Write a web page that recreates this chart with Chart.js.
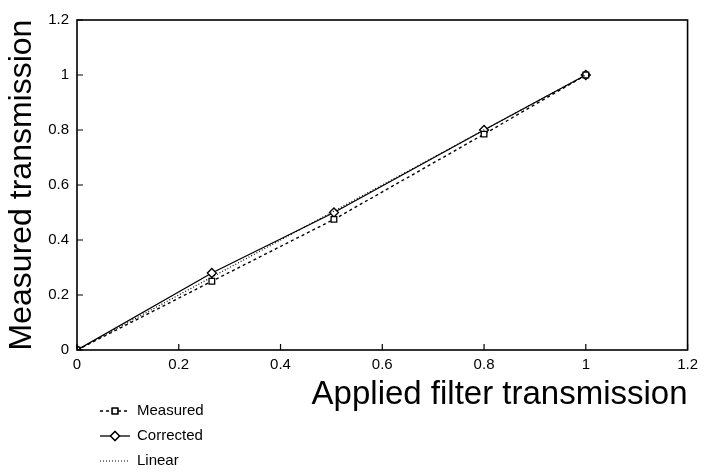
<!DOCTYPE html>
<html>
<head>
<meta charset="utf-8">
<script src="https://cdn.jsdelivr.net/npm/chart.js@4/dist/chart.umd.min.js"></script>
<style>
    html, body { margin: 0; padding: 0; background: #fff; }
    #wrap { width: 704px; height: 473px; position: relative; }
</style>
</head>
<body>
<div id="wrap"><canvas id="grafico"></canvas></div>
<script>
// filter values on the x axis and the two measured series
const filterValues = [0, 0.265, 0.505, 0.8, 1.0];
const measuredValues = [0, 0.25, 0.475, 0.785, 1.0];
const correctedValues = [0, 0.28, 0.5, 0.8, 1.0];
// reference line y = x
const linearX = [0, 1];
const linearY = [0, 1];
const tickValues = [0, 0.2, 0.4, 0.6, 0.8, 1, 1.2];

const fontFamily = "'Liberation Sans', Arial, sans-serif";

function toPoints(xs, ys) {
    return xs.map((x, i) => ({ x: x, y: ys[i] }));
}

// frame on all four sides plus inward tick marks
const framePlugin = {
    id: "frame",
    afterDraw(chart) {
        const { ctx, chartArea: a, scales } = chart;
        ctx.save();
        ctx.strokeStyle = "#000";
        ctx.lineWidth = 1.6;
        ctx.strokeRect(a.left, a.top, a.right - a.left, a.bottom - a.top);
        ctx.lineWidth = 1.2;
        ctx.beginPath();
        tickValues.forEach(v => {
            const px = scales.x.getPixelForValue(v);
            ctx.moveTo(px, a.bottom);
            ctx.lineTo(px, a.bottom - 6);
            const py = scales.y.getPixelForValue(v);
            ctx.moveTo(a.left, py);
            ctx.lineTo(a.left + 6, py);
        });
        ctx.stroke();
        ctx.restore();
    }
};

// stacked legend under the plot, bottom left
const legendPlugin = {
    id: "stackedLegend",
    afterDraw(chart) {
        const { ctx } = chart;
        const order = [1, 2, 0];
        ctx.save();
        ctx.font = "15px " + fontFamily;
        ctx.textBaseline = "middle";
        ctx.fillStyle = "#000";
        order.forEach((idx, row) => {
            const ds = chart.data.datasets[idx];
            const y = 411 + row * 25;
            ctx.strokeStyle = "#000";
            ctx.lineWidth = ds.borderWidth;
            ctx.setLineDash(ds.borderDash || []);
            ctx.beginPath();
            ctx.moveTo(100, y);
            ctx.lineTo(130, y);
            ctx.stroke();
            ctx.setLineDash([]);
            if (ds.pointRadius > 0) {
                ctx.fillStyle = "#fff";
                Chart.helpers.drawPoint(ctx, {
                    pointStyle: ds.pointStyle,
                    radius: ds.pointRadius,
                    borderWidth: ds.pointBorderWidth,
                    rotation: 0
                }, 115, y);
                ctx.fill();
                ctx.lineWidth = ds.pointBorderWidth;
                ctx.stroke();
            }
            ctx.fillStyle = "#000";
            ctx.fillText(ds.label, 137, y);
        });
        ctx.restore();
    }
};

const ctx = document.getElementById("grafico").getContext("2d");

new Chart(ctx, {
    type: "scatter",
    data: {
        datasets: [
            {
                label: "Linear",
                data: toPoints(linearX, linearY),
                showLine: true,
                borderColor: "#000",
                borderWidth: 1.2,
                borderDash: [1, 2],
                pointRadius: 0
            },
            {
                label: "Measured",
                data: toPoints(filterValues, measuredValues),
                showLine: true,
                borderColor: "#000",
                borderWidth: 1.4,
                borderDash: [3, 3],
                pointStyle: "rect",
                pointRadius: 4,
                pointBorderWidth: 1.3,
                pointBackgroundColor: "#fff",
                pointBorderColor: "#000"
            },
            {
                label: "Corrected",
                data: toPoints(filterValues, correctedValues),
                showLine: true,
                borderColor: "#000",
                borderWidth: 1.3,
                pointStyle: "rectRot",
                pointRadius: 4.5,
                pointBorderWidth: 1.3,
                pointBackgroundColor: "#fff",
                pointBorderColor: "#000"
            }
        ]
    },
    options: {
        responsive: true,
        maintainAspectRatio: false,
        animation: false,
        layout: { padding: { top: 20, right: 15, left: 0, bottom: 0 } },
        plugins: {
            legend: { display: false },
            tooltip: { enabled: false }
        },
        scales: {
            x: {
                type: "linear",
                min: 0,
                max: 1.2,
                afterFit: scale => { scale.height = 123; },
                afterBuildTicks: scale => { scale.ticks = tickValues.map(v => ({ value: v })); },
                grid: { display: false, drawTicks: false },
                border: { display: false },
                ticks: {
                    color: "#000",
                    padding: 6,
                    maxRotation: 0,
                    font: { family: fontFamily, size: 15 },
                    callback: v => String(+v.toFixed(1))
                },
                title: {
                    display: true,
                    text: "Applied filter transmission",
                    align: "end",
                    color: "#000",
                    font: { family: fontFamily, size: 33 },
                    padding: { top: 0, bottom: 58 }
                }
            },
            y: {
                type: "linear",
                min: 0,
                max: 1.2,
                afterFit: scale => { scale.width = 77; },
                afterBuildTicks: scale => { scale.ticks = tickValues.map(v => ({ value: v })); },
                grid: { display: false, drawTicks: false },
                border: { display: false },
                ticks: {
                    color: "#000",
                    padding: 8,
                    font: { family: fontFamily, size: 15 },
                    callback: v => String(+v.toFixed(1))
                },
                title: {
                    display: true,
                    text: "Measured transmission",
                    color: "#000",
                    font: { family: fontFamily, size: 32 },
                    padding: { top: 3, bottom: 0 }
                }
            }
        }
    },
    plugins: [framePlugin, legendPlugin]
});
</script>
</body>
</html>
